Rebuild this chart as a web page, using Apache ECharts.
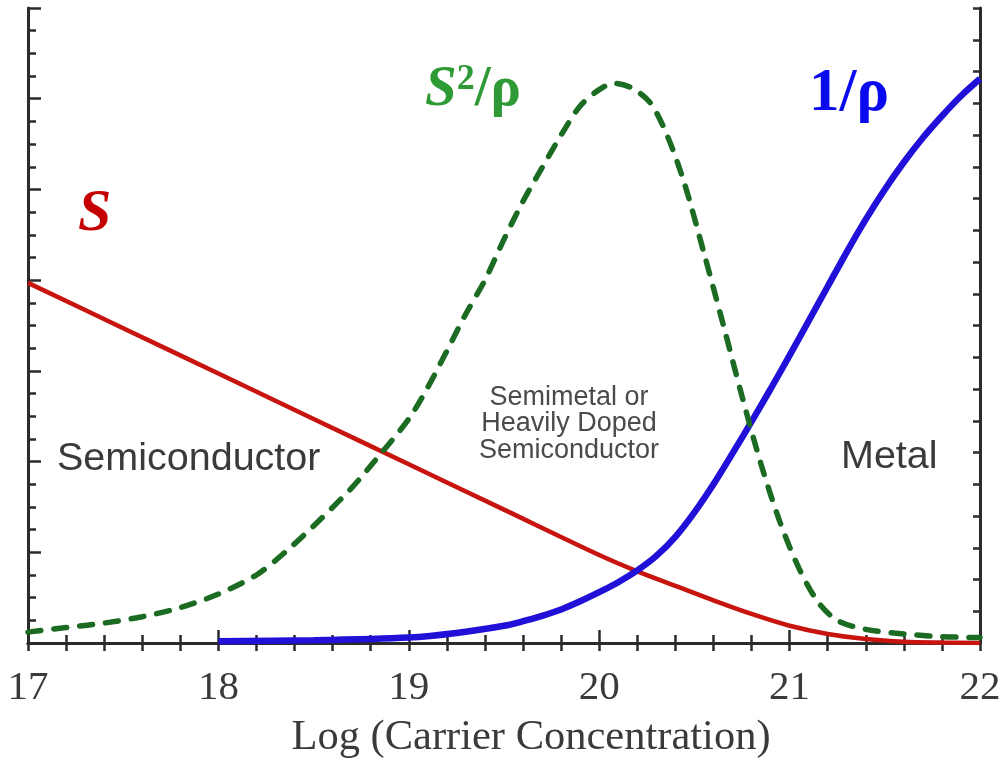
<!DOCTYPE html>
<html>
<head>
<meta charset="utf-8">
<script src="https://cdn.jsdelivr.net/npm/echarts@6/dist/echarts.min.js"></script>
<style>html,body{margin:0;padding:0;background:#fff;}#c{width:1001px;height:758px;}</style>
</head>
<body>
<div id="c"></div>
<script>
// ---- data ----
const xTickLabels = ['17', '18', '19', '20', '21', '22'];
const xAxisName = 'Log (Carrier Concentration)';

const xS = [17, 17.5, 18, 18.5, 19, 19.5, 20, 20.2, 20.4, 20.6, 20.8, 21, 21.2, 21.4, 21.6, 21.8, 22];
const yS = [3.97, 3.47, 2.97, 2.47, 1.97, 1.47, 0.97, 0.79, 0.63, 0.47, 0.32, 0.19, 0.1, 0.045, 0.015, 0.005, 0];

const xInvRho = [18, 18.5, 19, 19.25, 19.5, 19.6, 19.7, 19.8, 19.9, 20.0, 20.1, 20.2, 20.3, 20.4, 20.5, 20.6, 20.7, 20.8, 20.9, 21.0, 21.1, 21.2, 21.3, 21.4, 21.5, 21.6, 21.7, 21.8, 21.9, 22];
const yInvRho = [0.02, 0.03, 0.06, 0.11, 0.19, 0.24, 0.30, 0.37, 0.46, 0.56, 0.67, 0.80, 0.96, 1.17, 1.44, 1.75, 2.09, 2.44, 2.80, 3.17, 3.55, 3.93, 4.31, 4.67, 5.00, 5.30, 5.57, 5.81, 6.03, 6.22];

const xPF = [17, 17.2, 17.4, 17.6, 17.8, 18, 18.2, 18.35, 18.5, 18.7, 18.85, 19, 19.1, 19.2, 19.3, 19.4, 19.5, 19.6, 19.7, 19.8, 19.9, 20, 20.08, 20.17, 20.27, 20.36, 20.45, 20.55, 20.65, 20.75, 20.85, 20.95, 21.05, 21.15, 21.25, 21.4, 21.6, 21.8, 22];
const yPF = [0.12, 0.17, 0.22, 0.29, 0.39, 0.54, 0.75, 1.0, 1.29, 1.71, 2.08, 2.47, 2.82, 3.22, 3.63, 4.0, 4.45, 4.87, 5.24, 5.6, 5.92, 6.10, 6.17, 6.12, 5.95, 5.58, 5.05, 4.30, 3.52, 2.72, 1.97, 1.33, 0.82, 0.45, 0.25, 0.15, 0.10, 0.07, 0.06];

const regionLabels = ['Semiconductor', 'Semimetal or\nHeavily Doped\nSemiconductor', 'Metal'];

function pairs(xs, ys) { return xs.map((x, i) => [x, ys[i]]); }

const axisColor = '#2b2b2b';
const chart = echarts.init(document.getElementById('c'));
chart.setOption({
  animation: false,
  backgroundColor: '#ffffff',
  grid: { left: 28, right: 21, top: 8, bottom: 115, containLabel: false, outerBoundsMode: 'none' },
  xAxis: [
    {
      type: 'value', min: 17, max: 22, interval: 1, position: 'bottom',
      axisLine: { show: true, lineStyle: { color: axisColor, width: 3 } },
      axisTick: { show: true, inside: true, length: 13, lineStyle: { color: axisColor, width: 2.5 } },
      minorTick: { show: true, splitNumber: 5, length: 8, lineStyle: { color: axisColor, width: 2.5 } },
      splitLine: { show: false },
      axisLabel: {
        margin: 25, fontFamily: 'Liberation Serif', fontSize: 41, color: '#3a3a3a',
        formatter: v => xTickLabels[Math.round(v - 17)] ?? ''
      },
      name: xAxisName, nameLocation: 'middle', nameGap: 73,
      nameTextStyle: { fontFamily: 'Liberation Serif', fontSize: 42.5, color: '#3a3a3a', padding: [0, 0, 0, 54] }
    },
    {
      type: 'value', min: 17, max: 22, interval: 1, position: 'top',
      axisLine: { show: true, lineStyle: { color: axisColor, width: 3 } },
      axisTick: { show: true, inside: true, length: 8, lineStyle: { color: axisColor, width: 2.5 } },
      minorTick: { show: true, splitNumber: 5, length: 8, lineStyle: { color: axisColor, width: 2.5 } },
      splitLine: { show: false }, axisLabel: { show: false }
    }
  ],
  yAxis: [
    {
      type: 'value', min: 0, max: 7, interval: 1, position: 'left',
      axisLine: { show: true, lineStyle: { color: axisColor, width: 3 } },
      axisTick: { show: true, inside: true, length: 13, lineStyle: { color: axisColor, width: 2.5 } },
      minorTick: { show: true, splitNumber: 4, length: 8, lineStyle: { color: axisColor, width: 2.5 } },
      splitLine: { show: false }, axisLabel: { show: false }
    },
    {
      type: 'value', min: 0, max: 20, interval: 1, position: 'right',
      axisLine: { show: true, lineStyle: { color: axisColor, width: 3 } },
      axisTick: { show: true, inside: true, length: 7, lineStyle: { color: axisColor, width: 2.5 } },
      splitLine: { show: false }, axisLabel: { show: false }
    }
  ],
  series: [
    {
      name: 'S', type: 'line', xAxisIndex: 0, yAxisIndex: 0, data: pairs(xS, yS),
      smooth: 0.3, showSymbol: false, z: 2,
      lineStyle: { color: '#c8140f', width: 4.5 }
    },
    {
      name: '1/ρ', type: 'line', xAxisIndex: 0, yAxisIndex: 0, data: pairs(xInvRho, yInvRho),
      smooth: 0.3, showSymbol: false, z: 3,
      lineStyle: { color: '#2010d8', width: 6.5 }
    },
    {
      name: 'S²/ρ', type: 'line', xAxisIndex: 0, yAxisIndex: 0, data: pairs(xPF, yPF),
      smooth: 0.3, showSymbol: false, z: 4,
      lineStyle: { color: '#1c6b23', width: 5.5, type: [13, 13], cap: 'round' }
    }
  ],
  graphic: [
    { type: 'text', left: 78, top: 184, z: 10,
      style: { text: 'S', font: 'italic bold 60px "Liberation Serif"', fill: '#c40000' } },
    { type: 'text', left: 425, top: 62, z: 10,
      style: {
        text: '{s|S}{sup|2}{n|/ρ}', fill: '#2e9a36',
        rich: {
          s: { font: 'italic bold 57px "Liberation Serif"', fill: '#2e9a36' },
          sup: { font: 'bold 36px "Liberation Serif"', fill: '#2e9a36', verticalAlign: 'top', padding: [0, 0, 20, 0] },
          n: { font: 'bold 57px "Liberation Serif"', fill: '#2e9a36' }
        }
      } },
    { type: 'text', left: 809, top: 64, z: 10,
      style: { text: '1/ρ', font: 'bold 61px "Liberation Serif"', fill: '#0a0aee' } },
    { type: 'text', left: 57, top: 439, z: 10,
      style: { text: regionLabels[0], font: '39.5px "Liberation Sans"', fill: '#3a3a3a' } },
    { type: 'text', x: 569, y: 424, z: 10,
      style: { text: regionLabels[1], font: '27px "Liberation Sans"', fill: '#4a4a4a', align: 'center', verticalAlign: 'middle', lineHeight: 26.5 } },
    { type: 'text', left: 841, top: 437, z: 10,
      style: { text: regionLabels[2], font: '39.5px "Liberation Sans"', fill: '#3a3a3a' } }
  ]
});
</script>
</body>
</html>
